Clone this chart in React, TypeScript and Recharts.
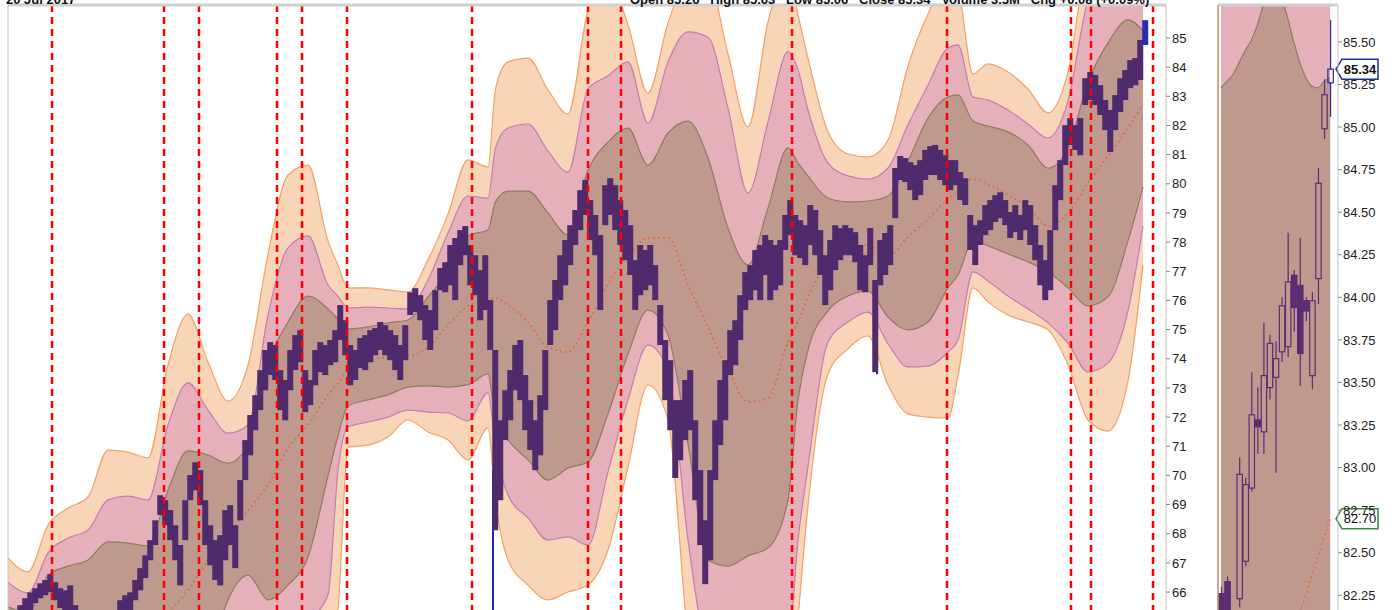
import React from 'react';
import { ComposedChart, Area, Line, Bar, XAxis, YAxis, ReferenceLine } from 'recharts';

const FONT = '"Liberation Sans", Arial, Helvetica, sans-serif';

// ---------- main chart: envelope bands (sampled along the day axis) ----------
const bandT = [0, 4, 8, 12, 16, 20, 24, 28, 32, 36, 40, 44, 48, 52, 56, 60, 64, 66, 68, 72, 76, 80, 84, 88, 92, 96, 97.5, 100, 104, 108, 112, 116, 120, 124, 128, 132, 136, 140, 144, 148, 152, 156, 158, 160, 164, 168, 172, 176, 180, 184, 188, 190, 193, 196, 200, 204, 208, 212, 216, 220, 224, 227];
const outerUpper = [67.17, 66.69, 68.30, 68.88, 69.26, 70.87, 70.80, 70.60, 73.79, 75.53, 73.89, 72.55, 73.79, 77.59, 80.30, 80.64, 78.04, 77.21, 76.43, 76.43, 76.36, 76.29, 77.39, 78.96, 80.82, 80.58, 83.25, 84.18, 84.31, 83.22, 82.39, 85.96, 86.99, 85.45, 83.11, 85.51, 86.99, 86.99, 84.45, 81.95, 85.55, 87.33, 85.79, 84.31, 81.78, 81.02, 80.92, 81.50, 84.04, 85.82, 86.99, 86.65, 83.77, 84.11, 83.83, 83.25, 82.43, 83.83, 87.68, 88.36, 88.36, 88.36];
const midUpper = [66.34, 65.97, 67.34, 67.85, 68.13, 69.16, 69.29, 69.16, 71.73, 73.17, 72.24, 71.45, 71.73, 75.50, 77.80, 78.21, 76.53, 76.15, 75.74, 75.77, 75.74, 75.71, 76.70, 78.31, 79.58, 79.51, 81.23, 81.91, 82.05, 81.12, 80.40, 83.25, 83.70, 84.18, 82.08, 84.18, 85.21, 85.03, 82.60, 79.68, 82.12, 84.52, 83.90, 82.53, 80.71, 80.27, 80.16, 80.54, 82.02, 83.39, 84.66, 84.76, 82.98, 82.87, 82.53, 82.05, 81.57, 82.84, 86.30, 87.33, 87.33, 87.33];
const innerUpper = [65.49, 65.31, 66.58, 66.89, 67.10, 67.72, 67.68, 67.58, 69.50, 70.84, 70.70, 70.42, 71.04, 73.85, 75.26, 76.15, 75.71, 75.36, 75.02, 75.09, 75.23, 75.33, 76.12, 76.98, 78.21, 78.42, 79.38, 79.75, 79.75, 79.00, 78.24, 80.47, 81.43, 81.91, 80.64, 81.74, 82.15, 80.89, 78.48, 77.22, 79.17, 81.23, 80.71, 80.27, 79.51, 79.38, 79.41, 79.58, 80.78, 82.25, 82.98, 83.05, 82.15, 81.98, 81.78, 81.33, 80.54, 81.23, 83.49, 84.83, 85.62, 85.24];
const movingAvg = [62.64, 62.81, 63.05, 63.26, 63.50, 63.84, 64.18, 64.70, 65.31, 66.07, 67.10, 67.96, 68.81, 69.67, 70.94, 71.73, 72.76, 73.17, 73.61, 73.96, 74.06, 74.09, 74.40, 75.16, 75.81, 76.01, 76.08, 75.84, 75.26, 74.40, 74.23, 75.26, 76.56, 77.52, 78.14, 78.14, 76.53, 75.09, 73.61, 72.52, 72.65, 74.57, 75.26, 76.15, 77.22, 77.80, 77.90, 77.49, 78.18, 78.79, 79.48, 79.72, 80.16, 79.99, 79.61, 79.20, 78.55, 78.99, 80.03, 80.95, 81.91, 82.70];
const innerLower = [59.90, 60.24, 59.55, 59.55, 59.90, 59.90, 60.59, 61.78, 61.10, 61.27, 63.50, 65.73, 66.58, 65.73, 66.24, 67.20, 69.98, 71.35, 72.38, 72.59, 72.76, 73.03, 73.07, 73.03, 73.11, 73.48, 71.90, 71.21, 70.53, 69.84, 70.25, 70.46, 72.11, 74.16, 75.67, 74.81, 71.08, 67.10, 66.89, 67.24, 67.51, 69.16, 72.58, 74.30, 75.64, 76.15, 76.32, 75.43, 74.99, 75.26, 76.43, 76.87, 78.04, 77.87, 77.59, 77.32, 76.98, 76.43, 75.81, 76.12, 78.04, 79.89];
const midLower = [59.04, 59.55, 58.87, 58.70, 58.87, 58.52, 59.04, 60.24, 58.87, 59.04, 61.95, 64.70, 65.31, 64.36, 64.70, 65.04, 65.90, 70.18, 71.66, 71.83, 72.00, 72.24, 72.17, 72.14, 71.87, 72.83, 70.97, 69.33, 68.54, 67.78, 67.89, 67.61, 70.12, 72.59, 74.47, 73.61, 67.78, 63.67, 62.64, 63.33, 63.67, 64.01, 67.78, 70.29, 74.57, 75.26, 75.60, 74.51, 73.72, 73.75, 74.23, 74.64, 76.98, 76.67, 76.15, 75.71, 75.23, 74.54, 73.55, 73.85, 75.64, 78.55];
const outerLower = [58.18, 58.87, 57.84, 57.67, 57.84, 56.81, 57.50, 58.87, 56.81, 56.64, 60.31, 63.67, 64.01, 62.98, 62.98, 62.64, 63.67, 65.38, 70.97, 71.04, 71.32, 71.90, 71.49, 71.21, 70.53, 71.63, 69.15, 67.10, 66.24, 65.73, 66.00, 66.24, 67.44, 70.29, 73.10, 71.90, 64.36, 60.24, 59.55, 59.55, 59.90, 60.24, 65.03, 68.95, 73.48, 74.34, 74.78, 73.10, 72.11, 72.00, 71.97, 73.41, 76.43, 75.95, 75.50, 75.26, 74.99, 73.79, 71.90, 71.52, 73.24, 77.22];

// ---------- main chart: daily price ranges ----------
const priceHigh = [
  65.21, 65.31, 65.55, 65.79, 65.99, 66.13, 66.30, 66.41, 66.61, 66.34,
  66.13, 66.06, 66.23, 65.55, 65.21, 64.86, 64.69, 64.86, 64.69, 65.03,
  65.21, 65.31, 65.72, 65.89, 65.99, 66.41, 66.82, 67.26, 67.78, 68.46,
  69.32, 69.15, 68.81, 68.29, 67.61, 69.15, 70.01, 70.45, 70.18, 69.15,
  68.29, 67.78, 67.95, 68.81, 68.98, 68.29, 69.84, 71.21, 72.07, 72.75,
  73.61, 74.30, 74.57, 74.47, 73.61, 73.27, 74.30, 74.81, 74.98, 73.61,
  73.27, 74.30, 74.57, 74.47, 74.64, 74.98, 75.84, 75.32, 74.47, 74.30,
  74.71, 74.81, 74.98, 75.05, 75.26, 75.15, 74.98, 74.81, 74.47, 75.15,
  76.28, 76.42, 76.18, 75.84, 75.67, 76.35, 77.11, 77.31, 77.90, 78.14,
  78.41, 78.55, 77.90, 77.55, 77.04, 77.55, 76.01, 74.30, 71.89, 72.92,
  73.61, 74.47, 74.64, 73.44, 72.58, 71.89, 72.75, 74.30, 76.01, 76.70,
  77.55, 78.07, 78.58, 79.10, 79.78, 80.13, 79.44, 78.93, 78.24, 79.95,
  80.19, 79.95, 79.44, 79.10, 78.58, 77.38, 77.90, 77.73, 77.90, 77.21,
  75.84, 74.64, 73.95, 72.58, 72.58, 73.27, 73.61, 71.89, 70.18, 68.46,
  70.18, 71.89, 73.27, 73.95, 74.98, 75.32, 76.18, 76.97, 77.21, 77.73,
  77.90, 78.24, 78.07, 77.90, 78.07, 78.93, 79.44, 78.93, 78.75, 78.58,
  79.27, 79.10, 78.41, 77.55, 78.07, 78.58, 78.48, 78.58, 78.48, 78.34,
  77.90, 77.55, 78.48, 76.70, 78.07, 78.31, 78.58, 80.54, 80.95, 80.88,
  80.74, 80.64, 80.81, 81.16, 81.29, 81.33, 81.16, 80.98, 80.81, 80.81,
  80.40, 80.19, 78.93, 78.58, 78.75, 79.27, 79.44, 79.61, 79.71, 79.44,
  79.03, 79.27, 78.93, 79.44, 79.27, 78.58, 77.90, 77.38, 78.41, 79.95,
  80.81, 82.01, 82.25, 82.01, 82.25, 83.62, 83.83, 83.73, 83.38, 82.87,
  82.53, 83.04, 83.62, 83.90, 84.24, 84.31, 84.93, 85.61,
];
const priceLow = [
  64.35, 64.35, 64.86, 65.21, 65.38, 65.62, 65.79, 65.89, 65.99, 65.72,
  65.45, 65.31, 65.38, 64.86, 64.35, 64.01, 63.83, 64.01, 63.83, 64.18,
  64.35, 64.52, 64.97, 65.21, 65.31, 65.72, 66.06, 66.48, 67.09, 67.61,
  68.64, 68.29, 67.78, 67.09, 66.23, 67.78, 69.15, 69.49, 68.98, 67.61,
  66.92, 66.41, 66.23, 67.09, 67.61, 66.82, 68.46, 69.84, 70.69, 71.55,
  72.24, 72.92, 73.44, 73.27, 72.24, 71.89, 72.92, 73.61, 73.88, 72.17,
  72.41, 73.09, 73.54, 73.44, 73.78, 73.88, 74.64, 74.12, 73.09, 73.27,
  73.68, 73.61, 73.88, 74.12, 74.30, 74.12, 73.95, 73.61, 73.27, 73.95,
  75.50, 75.60, 75.32, 74.64, 74.30, 74.98, 76.35, 76.28, 76.52, 76.01,
  77.21, 77.55, 76.52, 76.18, 75.32, 75.67, 74.30, 68.12, 69.15, 71.21,
  71.89, 72.92, 72.58, 71.55, 70.87, 70.18, 70.69, 72.24, 74.47, 74.98,
  76.01, 76.52, 77.21, 77.90, 78.41, 78.93, 78.07, 77.55, 75.67, 78.58,
  78.93, 78.41, 77.90, 77.38, 76.87, 75.67, 76.18, 76.35, 76.52, 76.01,
  74.47, 72.58, 71.55, 69.91, 70.52, 71.21, 71.55, 69.15, 67.61, 66.27,
  67.09, 69.84, 71.04, 71.89, 73.44, 73.78, 74.64, 75.67, 76.01, 76.35,
  76.01, 76.87, 76.01, 76.35, 76.52, 77.73, 78.24, 77.55, 77.45, 77.21,
  77.90, 77.55, 76.87, 75.84, 76.35, 77.04, 77.38, 77.55, 77.55, 77.31,
  76.35, 76.28, 77.21, 73.54, 76.52, 76.87, 77.21, 78.82, 80.13, 80.06,
  79.78, 79.44, 79.61, 80.13, 80.30, 80.30, 80.13, 79.95, 79.78, 79.95,
  79.44, 79.27, 77.73, 77.21, 77.90, 78.24, 78.41, 78.69, 78.82, 78.58,
  78.14, 78.34, 78.07, 78.41, 77.90, 77.38, 76.52, 76.01, 76.35, 78.41,
  79.44, 80.64, 81.33, 81.16, 80.98, 82.70, 82.87, 82.70, 82.36, 81.84,
  81.09, 81.84, 82.46, 82.87, 83.28, 83.38, 83.56, 84.76,
];

// intraday spikes drawn in blue
const spikeT = [97, 173.8];
const spikeHigh = [70.18, 74.64];
const spikeLow = [65.38, 73.47];

// event markers (red dashed verticals), on the day axis
const eventT = [8.8, 31.2, 38.2, 53.8, 58.8, 67.8, 92.8, 116, 122.6, 156.8, 187.8, 212.6, 216.6, 229];
const mainTicks = [66, 67, 68, 69, 70, 71, 72, 73, 74, 75, 76, 77, 78, 79, 80, 81, 82, 83, 84, 85];

// ---------- right panel: last 19 sessions ----------
const candleOpen = [82.26, 82.33, 82.04, 82.23, 82.45, 82.88, 83.28, 83.21, 83.47, 83.53, 83.68, 83.71, 84.13, 84.07, 83.98, 83.54, 84.11, 84.99, 85.26];
const candleClose = [82.02, 82.10, 81.96, 82.96, 82.90, 83.31, 83.24, 83.54, 83.73, 83.64, 83.95, 84.09, 83.94, 83.67, 83.92, 83.98, 84.67, 85.19, 85.34];
const candleHigh = [82.30, 82.36, 82.08, 83.06, 82.94, 83.56, 83.47, 83.85, 83.78, 83.74, 84.00, 84.38, 84.16, 84.35, 84.00, 84.03, 84.76, 85.28, 85.63];
const candleLow = [81.95, 82.02, 81.90, 82.18, 82.42, 82.86, 83.08, 83.08, 83.40, 82.97, 83.62, 83.65, 83.80, 83.48, 83.86, 83.46, 83.96, 84.93, 85.06];
const rpMidUpper = [86.45, 86.52, 86.60, 86.68, 86.77, 86.85, 86.92, 87.00, 87.06, 87.12, 87.18, 87.22, 87.25, 87.28, 87.30, 87.31, 87.32, 87.33, 87.33];
const rpInnerUpper = [85.23, 85.27, 85.31, 85.38, 85.45, 85.51, 85.60, 85.72, 85.80, 85.82, 85.76, 85.64, 85.50, 85.38, 85.29, 85.24, 85.23, 85.27, 85.29];
const rpInnerLower = [79.20, 79.30, 79.30, 79.40, 79.50, 79.50, 79.60, 79.60, 79.70, 79.70, 79.80, 79.80, 79.80, 79.90, 79.90, 79.90, 80.00, 80.00, 79.90];
const rpMidLower = [77.40, 77.50, 77.60, 77.60, 77.70, 77.80, 77.80, 77.90, 78.00, 78.00, 78.10, 78.10, 78.20, 78.20, 78.30, 78.30, 78.40, 78.50, 78.55];
const rpMa = [80.92, 81.02, 81.10, 81.21, 81.30, 81.38, 81.47, 81.55, 81.63, 81.72, 81.80, 81.90, 82.05, 82.15, 82.25, 82.37, 82.48, 82.59, 82.70];
const rpTicks = [82.25, 82.5, 82.75, 83, 83.25, 83.5, 83.75, 84, 84.25, 84.5, 84.75, 85, 85.25, 85.5];
const lastClose = 85.34;
const lastMa = 82.7;

const headerDate = '20 Jul 2017';
const headerQuote = 'Open 85.26   High 85.63   Low 85.06   Close 85.34   Volume 3.5M   Chg +0.08 (+0.09%)';

// ---------- tables built from the arrays ----------
const bandRows = bandT.map((t, k) => ({
  t,
  outer: [outerLower[k], outerUpper[k]],
  mid: [midLower[k], midUpper[k]],
  inner: [innerLower[k], innerUpper[k]],
  ma: movingAvg[k],
}));
const priceRows = priceHigh.map((h, i) => ({ t: i + 0.5, hl: [priceLow[i], h], last: i === priceHigh.length - 1 }));
const spikeRows = spikeT.map((t, k) => ({ t, hl: [spikeLow[k], spikeHigh[k]] }));
const rpRows = candleOpen.map((o, i) => ({
  i,
  open: o,
  close: candleClose[i],
  high: candleHigh[i],
  low: candleLow[i],
  range: [candleLow[i], candleHigh[i]],
  pink: [rpMidLower[i], rpMidUpper[i]],
  brown: [rpInnerLower[i], rpInnerUpper[i]],
  ma: rpMa[i],
  last: i === candleOpen.length - 1,
}));

const MAIN_Y: [number, number] = [63.67, 86.13];
const MAIN_X: [number, number] = [0, 231.6];
const RP_Y: [number, number] = [81.87, 85.717];
const RP_X: [number, number] = [-0.5, 19.3];
const M = { top: 5, right: 0, bottom: 0, left: 8 };

const ORANGE_FILL = '#f9d5b7';
const ORANGE_LINE = '#f3a066';
const PINK_FILL = '#e6b0bb';
const PINK_LINE = '#c27db4';
const BROWN_FILL = '#bf998d';
const BROWN_LINE = '#8e7c62';
const MA_COLOR = '#d8704c';
const PRICE_COLOR = '#4f2a6c';

// price range bar: keeps the library's vertical geometry, widened so bars touch
const renderPriceBar = (props: any) => {
  const { x, y, width, height, payload } = props;
  if (x == null || y == null) return <g />;
  const top = Math.min(y, y + height);
  const h = Math.max(1, Math.abs(height));
  const cx = x + width / 2;
  return <rect x={cx - 3} y={top} width={6} height={h} fill={payload && payload.last ? '#2b2bb0' : PRICE_COLOR} />;
};

const renderCandle = (props: any) => {
  const { x, y, width, height, payload } = props;
  if (!payload || x == null || y == null) return <g />;
  const top = Math.min(y, y + height);
  const h = Math.abs(height);
  const span = payload.high - payload.low;
  const k = span > 0 ? h / span : 0;
  const py = (v: number) => top + (payload.high - v) * k;
  const cx = x + width / 2;
  const bt = py(Math.max(payload.open, payload.close));
  const bb = py(Math.min(payload.open, payload.close));
  const up = payload.close >= payload.open;
  const c = payload.last ? '#1f2aa0' : '#5a2e73';
  return (
    <g>
      <line x1={cx} x2={cx} y1={top} y2={bt} stroke={c} strokeWidth={1.2} />
      <line x1={cx} x2={cx} y1={bb} y2={top + h} stroke={c} strokeWidth={1.2} />
      <rect x={cx - 2.7} y={bt} width={5.4} height={Math.max(1, bb - bt)} fill={up ? 'none' : c} stroke={c} strokeWidth={1.2} />
    </g>
  );
};

const TagLabel = (props: any) => {
  const { viewBox, text, color, bold } = props;
  if (!viewBox) return null;
  const x0 = viewBox.x + viewBox.width - 2;
  const y0 = viewBox.y;
  const w = 42;
  const h = 20;
  const a = 6;
  const pts = `${x0},${y0} ${x0 + a},${y0 - h / 2} ${x0 + w},${y0 - h / 2} ${x0 + w},${y0 + h / 2} ${x0 + a},${y0 + h / 2}`;
  return (
    <g>
      <polygon points={pts} fill="#ffffff" stroke={color} strokeWidth={1.5} />
      <text x={x0 + a + (w - a) / 2} y={y0 + 1} textAnchor="middle" dominantBaseline="middle" fontSize={13} fontWeight={bold ? 700 : 400} fill="#111" fontFamily={FONT}>
        {text}
      </text>
    </g>
  );
};

const hiddenY = (domain: [number, number], width: number) => (
  <YAxis orientation="right" width={width} type="number" domain={domain} allowDataOverflow tick={false} tickLine={false} axisLine={false} />
);

function MainBands() {
  return (
    <ComposedChart width={1215} height={660} data={bandRows} margin={M}>
      <XAxis dataKey="t" type="number" domain={MAIN_X} hide allowDataOverflow />
      {hiddenY(MAIN_Y, 49)}
      <Area dataKey="outer" type="monotone" fill={ORANGE_FILL} fillOpacity={1} stroke={ORANGE_LINE} strokeWidth={1.2} isAnimationActive={false} />
      <Area dataKey="mid" type="monotone" fill={PINK_FILL} fillOpacity={1} stroke={PINK_LINE} strokeWidth={1.2} isAnimationActive={false} />
      <Area dataKey="inner" type="monotone" fill={BROWN_FILL} fillOpacity={1} stroke={BROWN_LINE} strokeWidth={1.2} isAnimationActive={false} />
      <Line dataKey="ma" type="monotone" stroke={MA_COLOR} strokeWidth={1.8} strokeDasharray="2 3" dot={false} isAnimationActive={false} />
    </ComposedChart>
  );
}

function MainSpikes() {
  return (
    <ComposedChart width={1215} height={660} data={spikeRows} margin={M}>
      <XAxis dataKey="t" type="number" domain={MAIN_X} hide allowDataOverflow />
      {hiddenY(MAIN_Y, 49)}
      <Bar dataKey="hl" barSize={2} fill="#2626b0" isAnimationActive={false} />
    </ComposedChart>
  );
}

function MainPrice() {
  return (
    <ComposedChart width={1215} height={660} data={priceRows} margin={M}>
      <XAxis dataKey="t" type="number" domain={MAIN_X} hide allowDataOverflow />
      <YAxis
        orientation="right"
        width={49}
        type="number"
        domain={MAIN_Y}
        allowDataOverflow
        ticks={mainTicks}
        interval={0}
        tickSize={4}
        tickMargin={2}
        tick={{ fontSize: 13, fill: '#222', fontFamily: FONT }}
        axisLine={{ stroke: '#c4c4c4' }}
        tickLine={{ stroke: '#888' }}
      />
      <Bar dataKey="hl" barSize={5} shape={renderPriceBar} isAnimationActive={false} />
      {eventT.map((t) => (
        <ReferenceLine key={t} x={t} stroke="#ff0000" strokeWidth={2.5} strokeDasharray="7 5" />
      ))}
      <ReferenceLine x={MAIN_X[0]} stroke="#c4c4c4" ifOverflow="visible" />
      <ReferenceLine y={MAIN_Y[1]} stroke="#d0d0d0" strokeWidth={3} ifOverflow="visible" />
    </ComposedChart>
  );
}

function RightPanel() {
  return (
    <ComposedChart width={183} height={660} data={rpRows} margin={M}>
      <XAxis dataKey="i" type="number" domain={RP_X} hide allowDataOverflow />
      <YAxis
        orientation="right"
        width={55}
        type="number"
        domain={RP_Y}
        allowDataOverflow
        ticks={rpTicks}
        interval={0}
        tickFormatter={(v: number) => v.toFixed(2)}
        tickSize={4}
        tickMargin={1}
        tick={{ fontSize: 13, fill: '#222', fontFamily: FONT }}
        axisLine={{ stroke: '#c4c4c4' }}
        tickLine={{ stroke: '#888' }}
      />
      <Area dataKey="pink" type="monotone" fill={PINK_FILL} fillOpacity={1} stroke={PINK_LINE} strokeWidth={1.2} isAnimationActive={false} />
      <Area dataKey="brown" type="monotone" fill={BROWN_FILL} fillOpacity={1} stroke={BROWN_LINE} strokeWidth={1.2} isAnimationActive={false} />
      <Line dataKey="ma" type="monotone" stroke={MA_COLOR} strokeWidth={1.5} strokeDasharray="2 3" dot={false} isAnimationActive={false} />
      <Bar dataKey="range" barSize={5} shape={renderCandle} isAnimationActive={false} />
      <ReferenceLine x={RP_X[0]} stroke="#cc8866" strokeWidth={1.5} ifOverflow="visible" />
      <ReferenceLine y={RP_Y[1]} stroke="#d0d0d0" strokeWidth={3} ifOverflow="visible" />
      <ReferenceLine y={lastMa} stroke="none" label={<TagLabel text={lastMa.toFixed(2)} color="#2e8b3e" />} />
      <ReferenceLine y={lastClose} stroke="none" label={<TagLabel text={lastClose.toFixed(2)} color="#1c2f9a" bold />} />
    </ComposedChart>
  );
}

export default function App() {
  return (
    <div style={{ position: 'fixed', left: 0, top: 0, width: 1400, height: 610, overflow: 'hidden', background: '#ffffff', fontFamily: FONT }}>
      <div style={{ position: 'absolute', left: 0, top: 0 }}>
        <MainBands />
      </div>
      <div style={{ position: 'absolute', left: 0, top: 0 }}>
        <MainSpikes />
      </div>
      <div style={{ position: 'absolute', left: 0, top: 0 }}>
        <MainPrice />
      </div>
      <div style={{ position: 'absolute', left: 1210, top: 0 }}>
        <RightPanel />
      </div>
      <div style={{ position: 'absolute', left: 6, top: -8, fontSize: 13, fontWeight: 700, color: '#111', whiteSpace: 'pre', lineHeight: '15px' }}>{headerDate}</div>
      <div style={{ position: 'absolute', left: 630, top: -8, fontSize: 13, fontWeight: 700, color: '#111', whiteSpace: 'pre', lineHeight: '15px' }}>{headerQuote}</div>
    </div>
  );
}
